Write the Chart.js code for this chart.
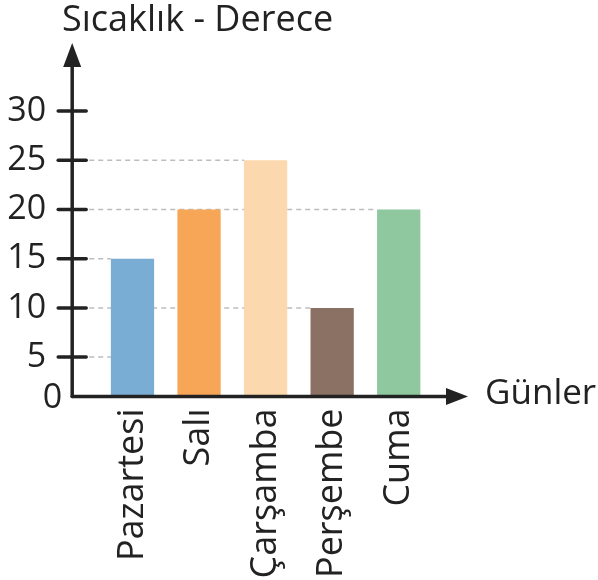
<!DOCTYPE html>
<html lang="tr">
<head>
<meta charset="utf-8">
<title>Sıcaklık - Derece</title>
<script src="https://cdn.jsdelivr.net/npm/chart.js@4"></script>
<style>
  html, body { margin: 0; padding: 0; background: #fff; }
  #wrap { width: 598px; height: 580px; }
</style>
</head>
<body>
<div id="wrap"><canvas id="chart" width="598" height="580"></canvas></div>
<script>
// ─── Data ───
const days = ['Pazartesi', 'Salı', 'Çarşamba', 'Perşembe', 'Cuma'];
const temps = [15, 20, 25, 10, 20];
const barColors = ['#7AADD4', '#F6A656', '#FCD8AE', '#8B7163', '#8FC79F'];
// the drawing's baseline sits about one unit above the true zero of its tick spacing
const yTickValues = [1, 5, 10, 15, 20, 25, 30];
const yTickLabels = ['0', '5', '10', '15', '20', '25', '30'];
const yTitle = 'Sıcaklık - Derece';
const xTitle = 'Günler';

const INK = '#222';
const FONT = '"Open Sans", sans-serif';

// ─── Arrow axes, tick marks, dashed guides ───
const arrowAxes = {
  id: 'arrowAxes',
  beforeDatasetsDraw(chart) {
    const { ctx, chartArea, scales: { y } } = chart;
    const bars = chart.getDatasetMeta(0).data;
    const axisX = chartArea.left - 27;
    const highest = Math.max(...temps);

    ctx.save();
    ctx.strokeStyle = '#bdbdbd';
    ctx.lineWidth = 1.5;
    ctx.setLineDash([5, 4]);
    yTickValues.forEach(v => {
      if (v === yTickValues[0] || v > highest) return;
      let idx = temps.lastIndexOf(v);
      if (idx < 0) idx = 0;
      const bar = bars[idx];
      const py = y.getPixelForValue(v);
      ctx.beginPath();
      ctx.moveTo(axisX + 17, py);
      ctx.lineTo(bar.x - bar.width / 2, py);
      ctx.stroke();
    });
    ctx.restore();
  },
  afterDatasetsDraw(chart) {
    const { ctx, chartArea, scales: { y } } = chart;
    const axisX = chartArea.left - 27;
    const axisY = chartArea.bottom;
    const tipY = chartArea.top;
    const tipX = chartArea.right + 36;

    ctx.save();
    ctx.strokeStyle = INK;
    ctx.fillStyle = INK;
    ctx.lineWidth = 3.5;
    ctx.lineCap = 'round';

    // y axis + arrow
    ctx.beginPath();
    ctx.moveTo(axisX, axisY);
    ctx.lineTo(axisX, tipY + 18);
    ctx.stroke();
    ctx.beginPath();
    ctx.moveTo(axisX, tipY);
    ctx.lineTo(axisX - 9, tipY + 24);
    ctx.lineTo(axisX + 9, tipY + 24);
    ctx.closePath();
    ctx.fill();

    // x axis + arrow
    ctx.beginPath();
    ctx.moveTo(axisX, axisY);
    ctx.lineTo(tipX - 18, axisY);
    ctx.stroke();
    ctx.beginPath();
    ctx.moveTo(tipX, axisY);
    ctx.lineTo(tipX - 22, axisY - 8.5);
    ctx.lineTo(tipX - 22, axisY + 8.5);
    ctx.closePath();
    ctx.fill();

    // tick marks
    yTickValues.slice(1).forEach(v => {
      const py = y.getPixelForValue(v);
      ctx.beginPath();
      ctx.moveTo(axisX - 14, py);
      ctx.lineTo(axisX + 14, py);
      ctx.stroke();
    });

    // origin label sits closer to the corner than the other tick labels
    ctx.textBaseline = 'middle';
    ctx.textAlign = 'right';
    ctx.font = `34px ${FONT}`;
    ctx.fillText(yTickLabels[0], axisX - 10, axisY + 2);

    // titles
    ctx.textAlign = 'left';
    ctx.font = `36px ${FONT}`;
    ctx.fillText(yTitle, 62, 21);
    ctx.font = `35px ${FONT}`;
    ctx.fillText(xTitle, tipX + 17, axisY - 2);
    ctx.restore();
  }
};

// ─── Chart ───
const ctx = document.getElementById('chart').getContext('2d');
new Chart(ctx, {
  type: 'bar',
  data: {
    labels: days,
    datasets: [{
      data: temps,
      backgroundColor: barColors,
      borderWidth: 0,
      barPercentage: 0.65,
      categoryPercentage: 1
    }]
  },
  options: {
    responsive: false,
    animation: false,
    layout: { padding: { left: 0, right: 166, top: 43, bottom: 0 } },
    plugins: { legend: { display: false }, tooltip: { enabled: false } },
    scales: {
      x: {
        grid: { display: false, drawTicks: false },
        border: { display: false },
        ticks: {
          color: INK,
          font: { family: FONT, size: 36 },
          minRotation: 90,
          maxRotation: 90,
          autoSkip: false,
          padding: 12
        },
        afterFit(scale) {
          scale.height = 183.5;
          scale.paddingLeft = 0;
          scale.paddingRight = 0;
        }
      },
      y: {
        min: 1,
        max: 36.9,
        grid: { display: false, drawTicks: false },
        border: { display: false },
        afterBuildTicks(scale) { scale.ticks = yTickValues.map(v => ({ value: v })); },
        ticks: {
          color: INK,
          font: { family: FONT, size: 34 },
          padding: 53,
          callback: (v) => v === yTickValues[0] ? '' : yTickLabels[yTickValues.indexOf(v)]
        },
        afterFit(scale) {
          scale.width = 99.2;
          scale.paddingTop = 0;
          scale.paddingBottom = 0;
        }
      }
    }
  },
  plugins: [arrowAxes]
});
</script>
</body>
</html>
